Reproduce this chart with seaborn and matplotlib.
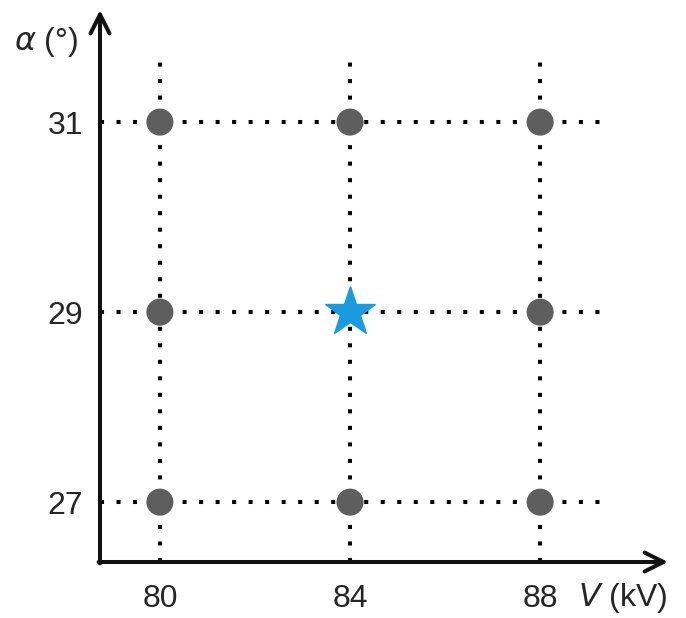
import numpy as np
import pandas as pd
import seaborn as sns
import matplotlib.pyplot as plt

# design points (kV, degrees)
volt = [80, 84, 88]
alpha = [27, 29, 31]
best_v = 84
best_a = 29

pts = pd.DataFrame([(v, a) for v in volt for a in alpha if not (v == best_v and a == best_a)],
                   columns=["V", "alpha"])

sns.set_style("white")
plt.rcParams['font.family'] = ['Liberation Sans', 'DejaVu Sans']

W, H = 686, 618
fig = plt.figure(figsize=(W / 100, H / 100), dpi=100)
# axes box from y-axis spine to arrow tips
x0, x1, yb, yt = 100, 668, 562, 10
ax = fig.add_axes([x0 / W, (H - yb) / H, (x1 - x0) / W, (yb - yt) / H])

xmin, xmax = 78.74, 90.69
ymin, ymax = 26.37, 32.18
ax.set_xlim(xmin, xmax)
ax.set_ylim(ymin, ymax)

dots = (0, (1, 3.1))
ax.vlines(volt, ymin, 31.65, colors="black", linestyles=dots, lw=2.9, zorder=1)
ax.hlines(alpha, xmin, 89.26, colors="black", linestyles=dots, lw=2.9, zorder=1)

sns.scatterplot(data=pts, x="V", y="alpha", s=380, color="#5e5e5e",
                edgecolor="none", ax=ax, zorder=3)
ax.plot([best_v], [best_a], marker="*", markersize=38, color="#1a9be0",
        markeredgecolor="#1a9be0", linestyle="none", zorder=4)

for s in ax.spines.values():
    s.set_visible(False)

arrow = dict(arrowstyle="->", lw=2.9, color="#111111", mutation_scale=34,
             shrinkA=0, shrinkB=0)
ax.annotate("", xy=(xmax, ymin), xytext=(xmin - 0.03, ymin), arrowprops=arrow,
            annotation_clip=False)
ax.annotate("", xy=(xmin, ymax), xytext=(xmin, ymin - 0.015), arrowprops=arrow,
            annotation_clip=False)

ax.set_xticks(volt)
ax.set_yticks(alpha)
ax.set_xticklabels([str(v) for v in volt], fontsize=23)
ax.set_yticklabels([str(a) for a in alpha], fontsize=23)
ax.tick_params(axis="x", length=0, pad=16)
ax.tick_params(axis="y", length=0, pad=12)
ax.set_xlabel("")
ax.set_ylabel("")

fig.text(578 / W, 1 - 598 / H, "$\\it{V}$ (kV)", fontsize=23, ha="left", va="center")
fig.text(14 / W, 1 - 42 / H, "$\\alpha$ (°)", fontsize=23, ha="left", va="center")

fig.savefig("out.png", dpi=100)
